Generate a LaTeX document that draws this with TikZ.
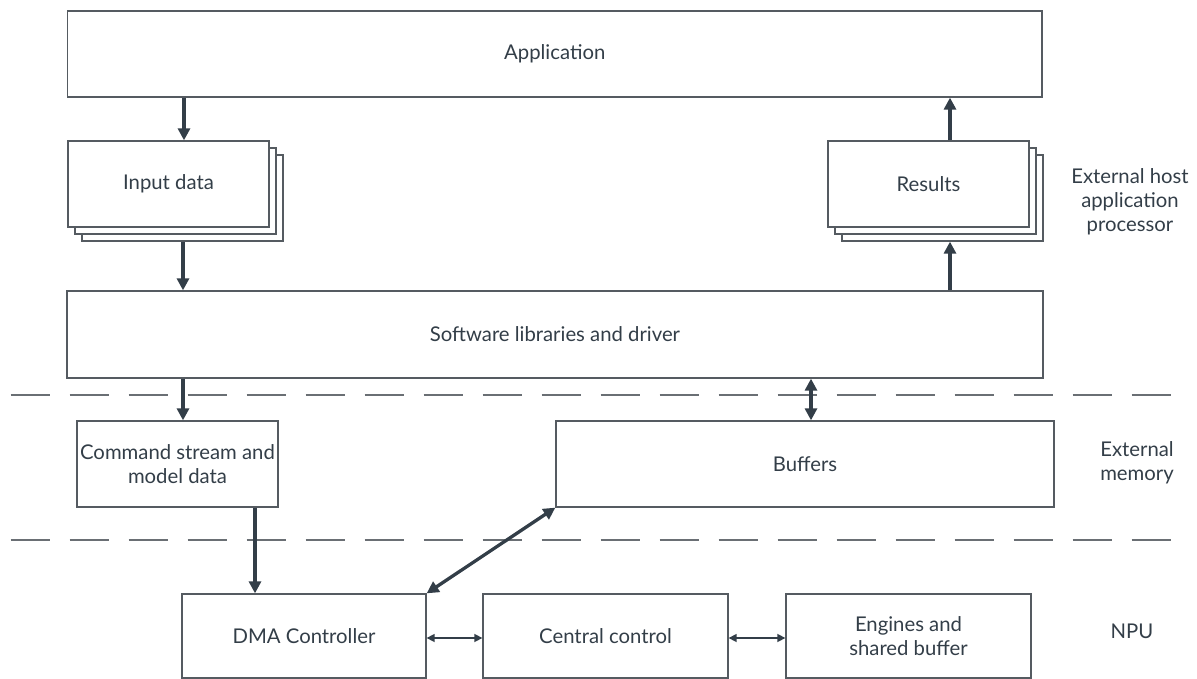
\documentclass[tikz,border=0pt]{standalone}
\usepackage{fontspec}
\setmainfont{Lato}
\usetikzlibrary{arrows.meta,calc}
\definecolor{txt}{HTML}{333E48}
\definecolor{bord}{HTML}{555B61}
\definecolor{dash}{HTML}{6A6F74}
\tikzset{
  box/.style={draw=bord, line width=1.3pt, fill=white, text=txt, align=center,
    inner sep=0pt, font=\fontsize{20.3}{24}\selectfont},
  lbl/.style={text=txt, align=center, inner sep=0pt, font=\fontsize{20.3}{24}\selectfont},
  bigarrow/.style={draw=txt, line width=3.3pt, -{Triangle[length=12pt,width=12pt]}},
  bigdouble/.style={draw=txt, line width=3.3pt, {Triangle[length=12pt,width=12pt]}-{Triangle[length=12pt,width=12pt]}},
  thindouble/.style={draw=txt, line width=1.5pt, {Triangle[length=8pt,width=8pt]}-{Triangle[length=8pt,width=8pt]}},
  sep/.style={draw=dash, line width=1.2pt, dash pattern=on 39pt off 20pt}
}
\begin{document}
\begin{tikzpicture}[x=1pt,y=-1pt]
\useasboundingbox (0,0) rectangle (1197,679);
% top
\node[box, minimum width=974.5pt, minimum height=86pt] (app) at (554.75,54) {Application};
% input data stack
\node[box, minimum width=201pt, minimum height=86pt] (inp3) at (182.5,198) {};
\node[box, minimum width=201pt, minimum height=86pt] (inp2) at (175.5,191) {};
\node[box, minimum width=201pt, minimum height=86pt] (inp) at (168.5,184) {Input data};
% results stack
\node[box, minimum width=201pt, minimum height=86pt] (res3) at (942.5,198) {};
\node[box, minimum width=201pt, minimum height=86pt] (res2) at (935.5,191) {};
\node[box, minimum width=201pt, minimum height=86pt] (res) at (928.5,184) {Results};
% software
\node[box, minimum width=976pt, minimum height=87pt] (sw) at (555,334.5) {Software libraries and driver};
% memory
\node[box, minimum width=201pt, minimum height=86pt] (cmd) at (177.5,464) {Command stream and\\model data};
\node[box, minimum width=498pt, minimum height=86pt] (buf) at (805,464) {Buffers};
% npu
\node[box, minimum width=244pt, minimum height=84pt] (dma) at (304,636) {DMA Controller};
\node[box, minimum width=245pt, minimum height=84pt] (cc) at (605.5,636) {Central control};
\node[box, minimum width=245pt, minimum height=84pt] (eng) at (908.5,636) {Engines and\\shared buffer};
% labels
\node[lbl] (lhost) at (1130,201.5) {External host\\application\\processor};
\node[lbl] (lmem) at (1137,463) {External\\memory};
\node[lbl] (lnpu) at (1132,631) {NPU};
% separators
\coordinate (s1a) at (10.7,395);
\coordinate (s1b) at (1171,395);
\coordinate (s2a) at (10.7,540);
\coordinate (s2b) at (1171,540);
\draw[sep] (s1a) -- (s1b);
\draw[sep] (s2a) -- (s2b);
% arrows
\draw[bigarrow] (app.south -| 184,0) -- (inp.north -| 184,0);
\draw[bigarrow] (inp3.south -| 183,0) -- (sw.north -| 183,0);
\draw[bigarrow] (res.north -| 950,0) -- (app.south -| 950,0);
\draw[bigarrow] (sw.north -| 950,0) -- (res3.south -| 950,0);
\draw[bigarrow] (sw.south -| 183,0) -- (cmd.north -| 183,0);
\draw[bigdouble] (sw.south -| 811,0) -- (buf.north -| 811,0);
\draw[bigarrow] (cmd.south -| 255,0) -- (dma.north -| 255,0);
\draw[bigdouble] (dma.north east) -- (buf.south west);
\draw[thindouble] (dma.east |- 0,638) -- (cc.west |- 0,638);
\draw[thindouble] (cc.east |- 0,638) -- (eng.west |- 0,638);
\end{tikzpicture}
\end{document}
